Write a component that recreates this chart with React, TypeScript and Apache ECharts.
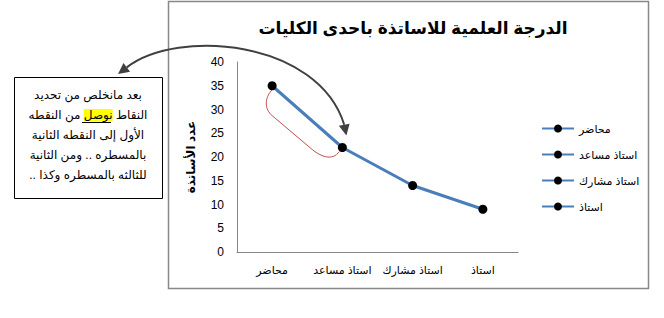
import React, { useEffect, useRef } from 'react';
import * as echarts from 'echarts';

const categories = ['محاضر', 'استاذ مساعد', 'استاذ مشارك', 'استاذ'];
const values = [35, 22, 14, 9];
const yMin = 0;
const yMax = 40;
const yInterval = 5;

const titleText = 'الدرجة العلمية للاساتذة باحدى الكليات';
const yAxisName = 'عدد الأساتذة';
const noteLines = [
  'بعد مانخلص من تحديد',
  'من النقطه {h|نوصل} النقاط',
  'الأول إلى النقطه الثانية',
  'بالمسطره .. ومن الثانية',
  '\u200Fللثالثه بالمسطره وكذا ..\u200F',
];

const FONT = "Arial, 'Liberation Sans', 'DejaVu Sans', sans-serif";
const LINE_COLOR = '#4A7EBB';
const AXIS_COLOR = '#868686';

function arrowHead(tip: number[], dir: number[], len: number, half: number) {
  const n = Math.hypot(dir[0], dir[1]);
  const dx = dir[0] / n, dy = dir[1] / n;
  const bx = tip[0] - dx * len, by = tip[1] - dy * len;
  const px = -dy * half, py = dx * half;
  return {
    base: [bx, by],
    points: [tip, [bx + px, by + py], [bx - px, by - py]],
  };
}

export default function App() {
  const ref = useRef<HTMLDivElement>(null);
  useEffect(() => {
    const chart = echarts.init(ref.current!, null, { renderer: 'svg' });
    const lineSeries = {
      type: 'line',
      symbol: 'circle',
      symbolSize: 9,
      lineStyle: { color: LINE_COLOR, width: 3 },
      itemStyle: { color: '#000' },
      emphasis: { disabled: true },
    };
    chart.setOption({
      animation: false,
      textStyle: { fontFamily: FONT },
      title: {
        text: titleText,
        left: 408,
        textAlign: 'center',
        top: 15,
        textStyle: { fontFamily: FONT, fontSize: 17, fontWeight: 'bold', color: '#000' },
      },
      legend: {
        orient: 'vertical',
        left: 536,
        top: 118,
        itemWidth: 32,
        itemHeight: 10,
        itemGap: 15,
        data: categories,
        textStyle: { fontFamily: FONT, fontSize: 11, color: '#000' },
        selectedMode: false,
      },
      grid: { left: 237, right: 146, top: 62, bottom: 66, containLabel: false },
      xAxis: {
        type: 'category',
        data: categories,
        boundaryGap: true,
        axisLine: { lineStyle: { color: AXIS_COLOR, width: 1 } },
        axisTick: { show: false },
        axisLabel: { interval: 0, fontFamily: FONT, fontSize: 11, color: '#000', margin: 12 },
      },
      yAxis: {
        type: 'value',
        min: yMin,
        max: yMax,
        interval: yInterval,
        name: yAxisName,
        nameLocation: 'middle',
        nameRotate: 90,
        nameGap: 40,
        nameTextStyle: { fontFamily: FONT, fontSize: 12, fontWeight: 'bold', color: '#000' },
        axisLine: { show: true, lineStyle: { color: AXIS_COLOR, width: 1 } },
        axisTick: { show: false },
        splitLine: { show: false },
        axisLabel: { fontFamily: FONT, fontSize: 12, color: '#000', margin: 13 },
      },
      series: [
        { ...lineSeries, name: 'main', data: values },
        ...categories.map((c) => ({ ...lineSeries, name: c, data: [] })),
      ],
    });

    const p1 = chart.convertToPixel({ gridIndex: 0 }, [0, values[0]]) as number[];
    const p2 = chart.convertToPixel({ gridIndex: 0 }, [1, values[1]]) as number[];

    const leftHead = arrowHead([118, 74], [-53, 40], 11, 5.5);
    const rightTip = [p2[0] + 4, p2[1] - 12];
    const rightHead = arrowHead(rightTip, [0.2, 1], 11, 5.5);

    const red = { stroke: '#C0504D', lineWidth: 1, fill: 'none' };
    const bStart = [p1[0], p1[1] + 4];
    const bTurn1 = [p1[0] - 1, p1[1] + 29];
    const bStraightEnd = [p1[0] + 38, p1[1] + 62];
    const bEnd = [p2[0] - 3, p2[1] + 4];

    chart.setOption({
      graphic: [
        {
          type: 'rect',
          shape: { x: 168.5, y: 1.5, width: 480, height: 287 },
          style: { fill: 'none', stroke: '#888', lineWidth: 1.5 },
          silent: true,
          z: -1,
        },
        {
          type: 'rect',
          shape: { x: 14.5, y: 77.5, width: 148, height: 121 },
          style: { fill: '#fff', stroke: '#000', lineWidth: 1 },
          silent: true,
        },
        {
          type: 'text',
          x: 88,
          y: 135,
          style: {
            text: noteLines.join('\n'),
            fontFamily: FONT,
            fontSize: 12,
            lineHeight: 20,
            fill: '#000',
            align: 'center',
            verticalAlign: 'middle',
            rich: {
              h: { backgroundColor: '#FFFF00', fontFamily: FONT, fontSize: 12, lineHeight: 20, fill: '#000' },
            },
          },
          silent: true,
          z: 10,
        },
        {
          type: 'line',
          shape: { x1: 82, y1: 122.5, x2: 111, y2: 122.5 },
          style: { stroke: '#000', lineWidth: 1 },
          silent: true,
          z: 11,
        },
        {
          type: 'bezierCurve',
          shape: {
            x1: leftHead.base[0], y1: leftHead.base[1],
            cpx1: 178, cpy1: 28,
            cpx2: 318, cpy2: 40,
            x2: rightHead.base[0], y2: rightHead.base[1],
          },
          style: { stroke: '#404040', lineWidth: 2, fill: 'none' },
          silent: true,
        },
        {
          type: 'polygon',
          shape: { points: leftHead.points },
          style: { fill: '#404040' },
          silent: true,
        },
        {
          type: 'polygon',
          shape: { points: rightHead.points },
          style: { fill: '#404040' },
          silent: true,
        },
        {
          type: 'bezierCurve',
          shape: {
            x1: bStart[0], y1: bStart[1],
            cpx1: p1[0] - 6, cpy1: p1[1] + 10,
            cpx2: p1[0] - 9, cpy2: p1[1] + 21,
            x2: bTurn1[0], y2: bTurn1[1],
          },
          style: red,
          silent: true,
          z: 1,
        },
        {
          type: 'line',
          shape: { x1: bTurn1[0], y1: bTurn1[1], x2: bStraightEnd[0], y2: bStraightEnd[1] },
          style: red,
          silent: true,
          z: 1,
        },
        {
          type: 'bezierCurve',
          shape: {
            x1: bStraightEnd[0], y1: bStraightEnd[1],
            cpx1: p1[0] + 48, cpy1: p1[1] + 71,
            cpx2: p2[0] - 10, cpy2: p2[1] + 14,
            x2: bEnd[0], y2: bEnd[1],
          },
          style: red,
          silent: true,
          z: 1,
        },
      ],
    });
    return () => chart.dispose();
  }, []);
  return <div ref={ref} style={{ position: 'absolute', left: 0, top: 0, width: 664, height: 318 }} />;
}
